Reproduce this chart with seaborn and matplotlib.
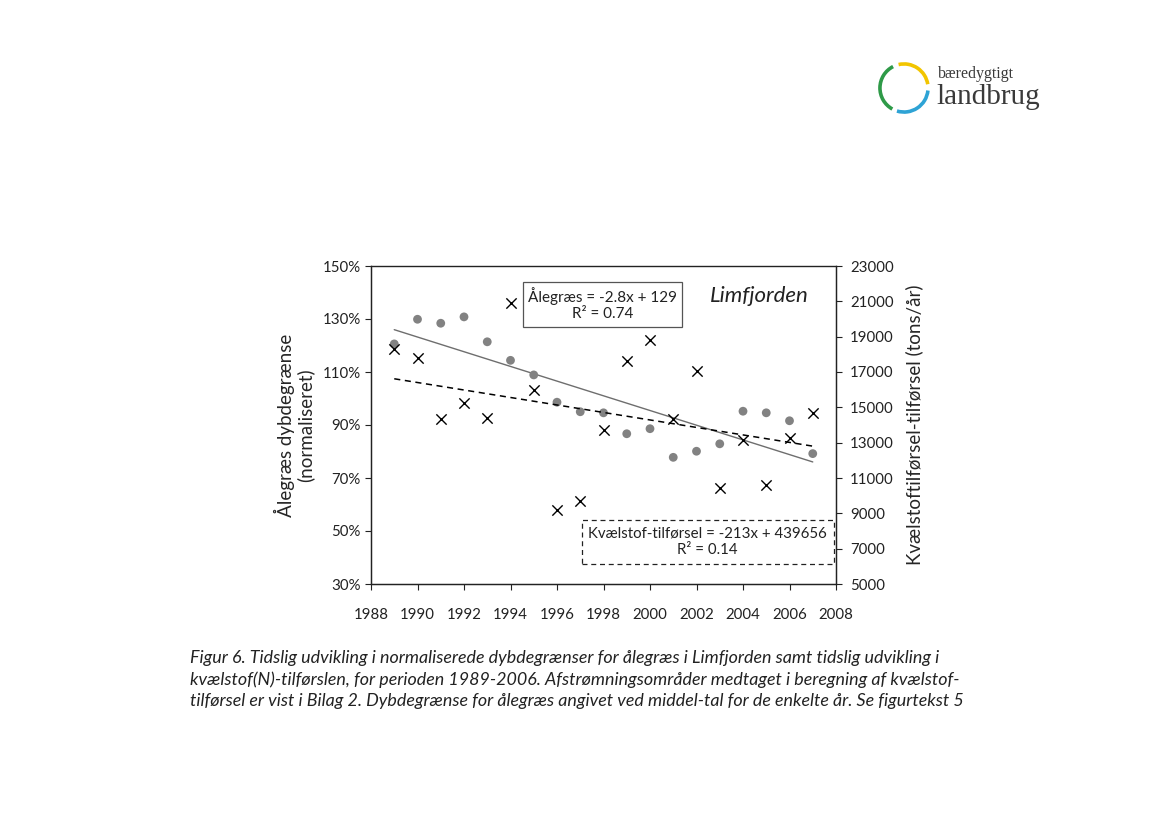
import numpy as np
import pandas as pd
import seaborn as sns
from matplotlib import pyplot as plt
from matplotlib.patches import Arc
from matplotlib.ticker import FuncFormatter

# data
years = list(range(1989, 2008))
aalegraes = [120.6, 129.9, 128.4, 130.8, 121.4, 114.4, 108.9, 98.6, 95.0, 94.6,
             86.7, 88.6, 77.8, 80.1, 82.9, 95.2, 94.6, 91.6, 79.2]
kvaelstof = [18280, 17790, 14360, 15260, 14400, 20920, 15960, 9170, 9720, 13730,
             17620, 18790, 14320, 17060, 10420, 13150, 10600, 13280, 14660]

x_ticks = list(range(1988, 2009, 2))
pct_ticks = list(range(30, 151, 20))
n_ticks = list(range(5000, 23001, 2000))

caption = ("Figur 6. Tidslig udvikling i normaliserede dybdegrænser for ålegræs i Limfjorden samt tidslig udvikling i\n"
           "kvælstof(N)-tilførslen, for perioden 1989-2006. Afstrømningsområder medtaget i beregning af kvælstof-\n"
           "tilførsel er vist i Bilag 2. Dybdegrænse for ålegræs angivet ved middel-tal for de enkelte år. Se figurtekst 5")

df = pd.DataFrame({"year": years, "aalegraes": aalegraes, "kvaelstof": kvaelstof})

sns.set_theme(style="ticks")
plt.rcParams["font.family"] = ["Lato", "DejaVu Sans"]
plt.rcParams["text.color"] = "#222222"

fig = plt.figure(figsize=(11.69, 8.27), dpi=100)
ax = fig.add_axes([371 / 1169, 1 - 584 / 827, 465 / 1169, 318 / 827])
ax2 = ax.twinx()

# eelgrass (left axis)
sns.regplot(data=df, x="year", y="aalegraes", scatter=False, ci=None, ax=ax,
            line_kws=dict(color="#6e6e6e", lw=1.0))
sns.scatterplot(data=df, x="year", y="aalegraes", ax=ax, color="#828282",
                s=40, edgecolor="none", zorder=3)

# nitrogen (right axis)
sns.regplot(data=df, x="year", y="kvaelstof", scatter=False, ci=None, ax=ax2,
            line_kws=dict(color="black", lw=1.1, ls=(0, (4, 3))))
sns.scatterplot(data=df, x="year", y="kvaelstof", ax=ax2, color="black",
                marker="x", s=55, linewidth=1.0, zorder=3)

ax.set_xlim(1988, 2008)
ax.set_ylim(30, 150)
ax2.set_ylim(5000, 23000)
ax.set_xticks(x_ticks)
ax.set_yticks(pct_ticks)
ax2.set_yticks(n_ticks)
ax.yaxis.set_major_formatter(FuncFormatter(lambda v, p: f"{v:.0f}%"))

ax.set_xlabel("")
ax.set_ylabel("Ålegræs dybdegrænse\n(normaliseret)", fontsize=13.5, labelpad=6, linespacing=1.05)
ax2.set_ylabel("Kvælstoftilførsel-tilførsel (tons/år)", fontsize=13.5, labelpad=8)

for a in (ax, ax2):
    a.tick_params(labelsize=10.8, length=4, width=0.8, colors="#222222")
    for s in a.spines.values():
        s.set_color("#222222")
        s.set_linewidth(0.9)
ax.tick_params(axis="x", pad=13)
ax2.tick_params(axis="y", pad=6)
ax.spines["top"].set_color("#777777")

ax.text(0.729, 0.906, "Limfjorden", transform=ax.transAxes, fontsize=16,
        style="italic", ha="left", va="center")
ax.text(0.498, 0.880, "Ålegræs = -2.8x + 129\nR² = 0.74", transform=ax.transAxes,
        fontsize=11, ha="center", va="center", multialignment="center",
        bbox=dict(boxstyle="square,pad=0.35", fc="white", ec="#555555", lw=0.9))
ax2.text(0.724, 0.132, "Kvælstof-tilførsel = -213x + 439656\nR² = 0.14", transform=ax2.transAxes,
         fontsize=10.8, ha="center", va="center", multialignment="center",
         bbox=dict(boxstyle="square,pad=0.45", fc="white", ec="#222222", lw=0.9, ls=(0, (4, 3))))

fig.text(190 / 1169, 1 - 650 / 827, caption, fontsize=12.9, style="italic",
         ha="left", va="top", linespacing=1.4)

# logo
lg = fig.add_axes([878 / 1169, 1 - 114 / 827, 52 / 1169, 52 / 827])
lg.set_xlim(-1, 1)
lg.set_ylim(-1, 1)
lg.axis("off")
for t1, t2, c in [(117, 241, "#2e9a48"), (9, 103, "#f2c500"), (253, 354, "#2ea3d5")]:
    lg.add_patch(Arc((0, 0), 1.85, 1.85, theta1=t1, theta2=t2, color=c, lw=2.6))
fig.text(938 / 1169, 1 - 78 / 827, "bæredygtigt", fontsize=11.5, family="Liberation Serif",
         color="#3a3a3a", va="baseline")
fig.text(936 / 1169, 1 - 104 / 827, "landbrug", fontsize=21, family="Liberation Serif",
         color="#3a3a3a", va="baseline")

fig.savefig("out.png", dpi=100)
